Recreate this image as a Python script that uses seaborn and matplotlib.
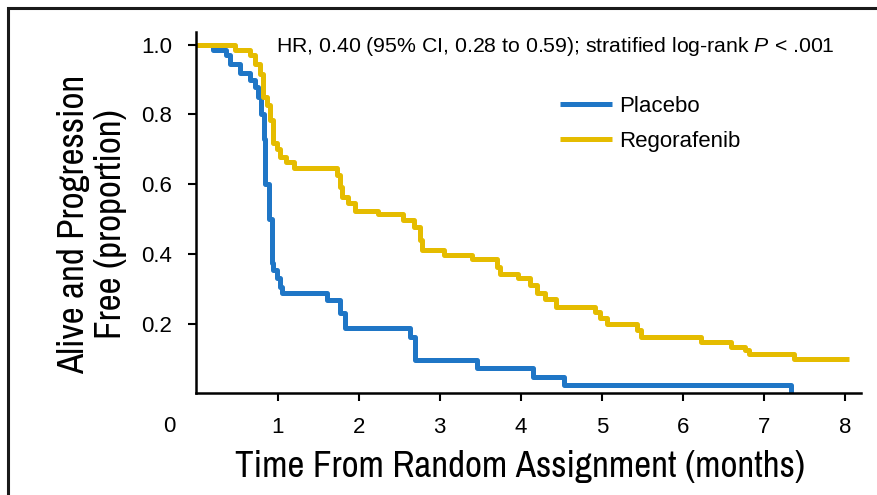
import pandas as pd
import numpy as np
import matplotlib
matplotlib.use('Agg')
import matplotlib.pyplot as plt
from matplotlib.patches import Rectangle
import seaborn as sns

sns.set_style('ticks')
plt.rcParams['font.family'] = ['Liberation Sans', 'DejaVu Sans']
plt.rcParams['mathtext.fontset'] = 'custom'
plt.rcParams['mathtext.it'] = 'Liberation Sans:italic'
plt.rcParams['mathtext.rm'] = 'Liberation Sans'
plt.rcParams['text.color'] = 'black'
plt.rcParams['xtick.color'] = 'black'
plt.rcParams['ytick.color'] = 'black'
plt.rcParams['axes.labelcolor'] = 'black'
narrow = ['Archivo Narrow', 'Liberation Sans', 'DejaVu Sans']

# Kaplan-Meier step values (months, proportion)
placebo_t = [0, 0.20, 0.37, 0.41, 0.54, 0.66, 0.72, 0.76, 0.80, 0.83, 0.85, 0.89, 0.93,
             0.95, 0.99, 1.03, 1.05, 1.61, 1.77, 1.83, 2.64, 2.70, 3.46, 4.15, 4.53, 7.33]
placebo_s = [1.0, 0.984, 0.97, 0.945, 0.92, 0.90, 0.88, 0.85, 0.80, 0.73, 0.60, 0.50, 0.373,
             0.353, 0.33, 0.306, 0.287, 0.267, 0.229, 0.186, 0.162, 0.095, 0.072, 0.048, 0.024, 0.0]

rego_t = [0, 0.475, 0.66, 0.72, 0.78, 0.825, 0.866, 0.907, 0.94, 0.99, 1.03, 1.11, 1.20,
          1.73, 1.77, 1.79, 1.87, 1.96, 2.24, 2.55, 2.68, 2.76, 2.78, 3.05, 3.40, 3.71,
          3.75, 3.97, 4.12, 4.20, 4.30, 4.43, 4.92, 4.98, 5.06, 5.43, 5.48, 6.22, 6.59,
          6.77, 6.81, 7.37, 8.05]
rego_s = [1.0, 0.984, 0.97, 0.946, 0.917, 0.85, 0.827, 0.784, 0.717, 0.70, 0.678, 0.664, 0.645,
          0.626, 0.592, 0.564, 0.545, 0.523, 0.513, 0.497, 0.478, 0.44, 0.411, 0.397, 0.384, 0.363,
          0.341, 0.33, 0.31, 0.287, 0.27, 0.248, 0.234, 0.215, 0.20, 0.181, 0.162, 0.148, 0.134,
          0.124, 0.113, 0.098, 0.098]

arms = ['Placebo', 'Regorafenib']
colors = {'Placebo': '#1f76c6', 'Regorafenib': '#e5bc00'}
x_ticks = [1, 2, 3, 4, 5, 6, 7, 8]
y_ticks = [0.2, 0.4, 0.6, 0.8, 1.0]

df = pd.concat([
    pd.DataFrame({'time': placebo_t, 'surv': placebo_s, 'arm': 'Placebo'}),
    pd.DataFrame({'time': rego_t, 'surv': rego_s, 'arm': 'Regorafenib'}),
], ignore_index=True)

fig = plt.figure(figsize=(8.77, 4.95), dpi=100)
ax = fig.add_axes([0.224, 0.2055, 0.758, 0.7295])

sns.lineplot(data=df, x='time', y='surv', hue='arm', hue_order=arms, palette=colors,
             estimator=None, sort=False, drawstyle='steps-post', linewidth=3.6,
             solid_capstyle='butt', ax=ax)

ax.set_xlim(0, 8.2)
ax.set_ylim(0, 1.036)
ax.set_xticks(x_ticks)
ax.set_yticks(y_ticks)
ax.set_yticklabels(['0.2', '0.4', '0.6', '0.8', '1.0'])
ax.tick_params(axis='both', labelsize=16, width=1.5, length=6)
ax.tick_params(axis='x', pad=11)
ax.tick_params(axis='y', pad=11.5)
sns.despine(ax=ax)
for side in ['left', 'bottom']:
    ax.spines[side].set_linewidth(1.8)
    ax.spines[side].set_color('black')

# origin label sits left of the corner
ax.text(-0.33, -0.066, '0', ha='center', va='top', fontsize=16)

ax.set_xlabel('Time From Random Assignment (months)', fontsize=26.7, family=narrow, va='top')
ax.xaxis.set_label_coords(0.487, -0.156)
ax.set_ylabel('Alive and Progression\nFree (proportion)', fontsize=26.7, family=narrow,
              linespacing=1.12)
ax.yaxis.set_label_coords(-0.105, 0.468)

ax.text(0.98, 0.995, 'HR, 0.40 (95% CI, 0.28 to 0.59); stratified log-rank $\\it{P}$ < .001',
        ha='left', va='center', fontsize=15.3)

sns.move_legend(ax, 'upper left', bbox_to_anchor=(0.547, 0.824), frameon=False, title=None,
                fontsize=16, handlelength=2.35, handletextpad=0.3, labelspacing=0.62,
                borderpad=0, borderaxespad=0)
for line in ax.get_legend().get_lines():
    line.set_linewidth(3.6)

fig.patches.append(Rectangle((8 / 877, -0.5), 2, 1.5 - 8 / 495, fill=False, lw=2.2,
                             edgecolor='#1a1a1a', transform=fig.transFigure))

fig.savefig('out.png', dpi=100)
